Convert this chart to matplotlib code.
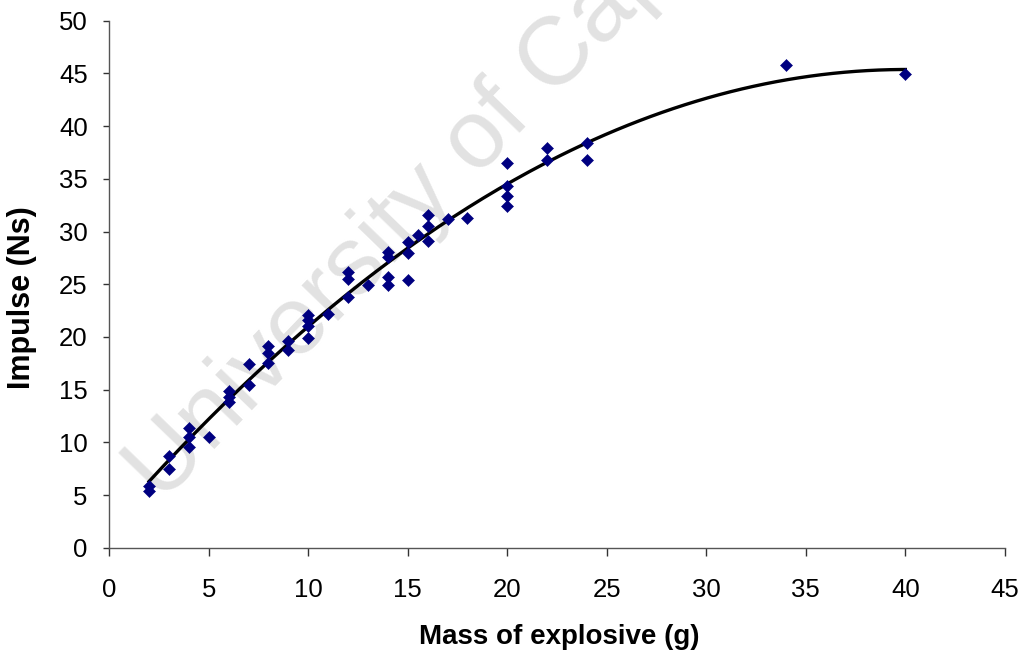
import numpy as np
import matplotlib
matplotlib.use("Agg")
import matplotlib.pyplot as plt

# Charge mass (g) and measured impulse (Ns)
mass_g = [2, 2, 3, 3, 4, 4, 4, 5, 6, 6, 6, 7, 7, 8, 8, 8, 9, 9,
          10, 10, 10, 10, 11, 12, 12, 12, 13, 14, 14, 14, 14,
          15, 15, 15, 15.5, 16, 16, 16, 17, 18, 20, 20, 20, 20,
          22, 22, 24, 24, 34, 40]
impulse_ns = [5.85, 5.4, 8.7, 7.5, 11.4, 10.5, 9.6, 10.5, 14.9, 14.3, 13.8,
              17.4, 15.4, 19.1, 18.5, 17.5, 19.6, 18.8,
              22.1, 21.6, 21.0, 19.9, 22.2, 26.2, 25.5, 23.8, 24.9,
              28.1, 27.6, 25.7, 24.9, 29.0, 28.0, 25.4, 29.7,
              31.6, 30.5, 29.1, 31.2, 31.3, 36.5, 34.3, 33.4, 32.4,
              37.95, 36.8, 38.4, 36.8, 45.8, 44.9]

x_ticks = list(range(0, 50, 5))
y_ticks = list(range(0, 55, 5))

plt.rcParams["font.family"] = ["Liberation Sans", "DejaVu Sans"]

fig = plt.figure(figsize=(10.25, 6.54), dpi=100)
ax = fig.add_axes([0.1066, 0.1625, 0.8737, 0.8058])
ax.patch.set_visible(False)

# Faint diagonal watermark behind the data
fig.text(0.158, 0.229, "University of Cape Town", fontsize=70,
         color="#e2e2e2", rotation=46, rotation_mode="anchor",
         ha="left", va="baseline", zorder=-1)

x = np.array(mass_g, dtype=float)
y = np.array(impulse_ns, dtype=float)

# Second-order polynomial trend line over the measured range
coef = np.polyfit(x, y, 2)
xs = np.linspace(x.min(), x.max(), 200)
ax.plot(xs, np.polyval(coef, xs), color="black", lw=2.4, zorder=2)

ax.plot(x, y, linestyle="none", marker="D", markersize=6.6,
        color="#000080", markeredgecolor="#000080", markeredgewidth=0.4,
        zorder=3)

ax.set_xlim(0, 45)
ax.set_ylim(0, 50)
ax.set_xticks(x_ticks)
ax.set_yticks(y_ticks)

for s in ("top", "right"):
    ax.spines[s].set_visible(False)
for s in ("left", "bottom"):
    ax.spines[s].set_color("#555555")
    ax.spines[s].set_linewidth(1.0)

ax.tick_params(axis="x", direction="out", length=5.5, width=1.0,
               color="#333333", labelsize=18.5, pad=16)
ax.tick_params(axis="y", direction="out", length=4.5, width=1.0,
               color="#333333", labelsize=18.5, pad=11)

ax.set_xlabel("Mass of explosive (g)", fontsize=20, fontweight="bold")
ax.set_ylabel("Impulse (Ns)", fontsize=22, fontweight="bold")
ax.xaxis.set_label_coords(0.502, -0.17)
ax.xaxis.label.set_verticalalignment("center")
ax.yaxis.set_label_coords(-0.098, 0.474)
ax.yaxis.label.set_verticalalignment("center")

fig.savefig("out.png", dpi=100)
